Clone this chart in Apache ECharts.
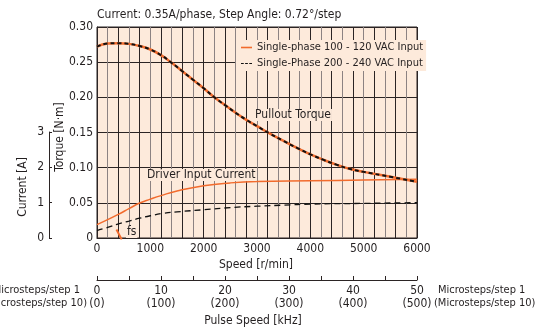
<!DOCTYPE html>
<html><head><meta charset="utf-8">
<script src="https://cdn.jsdelivr.net/npm/echarts@6/dist/echarts.min.js"></script>
<style>html,body{margin:0;padding:0;background:#fff}#c{width:544px;height:330px}</style>
</head><body><div id="c"></div>
<script>
// ---- data ----
const torqueSpeed = [0,200,400,600,800,1000,1200,1400,1600,1800,2000,2200,2400,2600,2800,3000,3250,3500,3750,4000,4250,4500,4750,5000,5500,6000];
const torqueValues = [0.272,0.2765,0.277,0.276,0.273,0.268,0.260,0.249,0.237,0.225,0.213,0.200,0.189,0.178,0.168,0.159,0.148,0.138,0.128,0.119,0.111,0.104,0.098,0.094,0.087,0.080];
const current1Speed = [0,200,400,600,800,1000,1200,1500,2000,2500,3000,4000,5000,6000];
const current1Values = [0.38,0.52,0.67,0.83,0.99,1.10,1.20,1.33,1.48,1.56,1.60,1.62,1.64,1.66];
const current2Speed = [0,200,400,600,800,1000,1250,1500,2000,2500,3000,3500,4000,5000,6000];
const current2Values = [0.21,0.30,0.40,0.48,0.56,0.63,0.70,0.74,0.80,0.86,0.90,0.93,0.96,0.98,1.00];
const fsSpeed = [365,462];
const fsTorque = [0.012,-0.002];
const seriesNames = ['Single-phase 100 - 120 VAC Input','Single-Phase 200 - 240 VAC Input'];
const titleText = 'Current: 0.35A/phase, Step Angle: 0.72°/step';

const FONT = "'Liberation Sans Narrow','Arial Narrow','DejaVu Sans Condensed',sans-serif";
const FS = 12;
const TXT = '#231f20';
const ORANGE = '#f26b2d';
const BG = '#fdeadb';
const DARK = '#2b2424';
const GREY = '#8c8282';

const zip = (a,b)=>a.map((v,i)=>[v,b[i]]);

const chart = echarts.init(document.getElementById('c'), null, {renderer:'canvas'});
const ts = {fontFamily: FONT, fontSize: FS, color: TXT};
const F = FS + 'px ' + FONT;
const F11 = '11px ' + FONT;
const txt = (text, x, y, extra) => ({type:'text', x, y, z:50,
  style:Object.assign({text, font:F, fill:TXT, verticalAlign:'middle'}, extra || {})});
chart.setOption({
  animation:false,
  textStyle:{fontFamily:FONT},
  grid:[
    {left:97, top:27, width:320, height:211, show:true, backgroundColor:BG, borderColor:DARK, borderWidth:1},
    {left:97, top:132, width:320, height:106, show:false},
    {left:97, top:279, width:320, height:1, show:false}
  ],
  xAxis:[
    {gridIndex:0, type:'value', min:0, max:6000, interval:200,
     axisLine:{show:true, onZero:false, lineStyle:{color:DARK, width:1}}, axisTick:{show:false},
     axisLabel:{...ts, margin:5, formatter:v=> v%1000===0 ? String(v) : ''},
     splitLine:{show:true, lineStyle:{color:GREY, width:1}}},
    {gridIndex:0, type:'value', min:0, max:6000, interval:400,
     axisLine:{show:false}, axisTick:{show:false}, axisLabel:{show:false},
     splitLine:{show:true, lineStyle:{color:DARK, width:1}}},
    {gridIndex:1, type:'value', min:0, max:6000, show:false},
    {gridIndex:2, type:'value', min:0, max:50, interval:5, position:'bottom',
     axisLine:{show:true, onZero:false, lineStyle:{color:DARK, width:1}},
     axisTick:{show:true, inside:true, length:4, lineStyle:{color:DARK}},
     axisLabel:{...ts, margin:4, lineHeight:13, formatter:v=> v%10===0 ? v+'\n('+(v*10)+')' : ''},
     splitLine:{show:false}}
  ],
  yAxis:[
    {gridIndex:0, type:'value', min:0, max:0.30, interval:0.05,
     axisLine:{show:true, onZero:false, lineStyle:{color:DARK}}, axisTick:{show:false},
     axisLabel:{...ts, margin:4, formatter:v=> v===0 ? '0' : v.toFixed(2)},
     splitLine:{show:true, lineStyle:{color:DARK, width:1}}},
    {gridIndex:1, type:'value', min:0, max:3, interval:1, offset:48, position:'left',
     axisLine:{show:true, onZero:false, lineStyle:{color:DARK}},
     axisTick:{show:true, inside:true, length:3, lineStyle:{color:DARK}},
     axisLabel:{...ts, margin:5},
     splitLine:{show:false}},
    {gridIndex:2, type:'value', show:false}
  ],
  legend:{
    data:[
      {name:seriesNames[0], icon:'rect'},
      {name:seriesNames[1], icon:'path://M0,0h3v1h-3z M4.5,0h3v1h-3z M9,0h3v1h-3z'}
    ],
    orient:'vertical', left:236, top:40, itemGap:5,
    itemWidth:11, itemHeight:1.6, backgroundColor:BG, padding:[2,3,2,5],
    textStyle:{fontFamily:FONT, fontSize:11, color:TXT}
  },
  series:[
    {name:seriesNames[0], type:'line', xAxisIndex:0, yAxisIndex:0, data:zip(torqueSpeed,torqueValues),
     smooth:true, showSymbol:false, symbol:'none', lineStyle:{color:ORANGE, width:2.5}, itemStyle:{color:ORANGE}, z:3},
    {name:seriesNames[1], type:'line', xAxisIndex:0, yAxisIndex:0, data:zip(torqueSpeed,torqueValues),
     smooth:true, showSymbol:false, symbol:'none', lineStyle:{color:'#111', width:2, type:[4,3]}, itemStyle:{color:'#111'}, z:4},
    {name:seriesNames[0], type:'line', xAxisIndex:2, yAxisIndex:1, data:zip(current1Speed,current1Values),
     smooth:true, showSymbol:false, symbol:'none', lineStyle:{color:ORANGE, width:1.5}, itemStyle:{color:ORANGE}, z:3},
    {name:seriesNames[1], type:'line', xAxisIndex:2, yAxisIndex:1, data:zip(current2Speed,current2Values),
     smooth:true, showSymbol:false, symbol:'none', lineStyle:{color:'#111', width:1.3, type:[6,4]}, itemStyle:{color:'#111'}, z:3},
    {name:'fs', type:'line', xAxisIndex:0, yAxisIndex:0, data:zip(fsSpeed,fsTorque), clip:false,
     showSymbol:false, symbol:'none', lineStyle:{color:ORANGE, width:2}, z:3}
  ],
  graphic:[
    txt(titleText, 97, 15),
    txt('Pullout Torque', 254, 115, {backgroundColor:BG, padding:[0,1]}),
    txt('Driver Input Current', 146, 175, {backgroundColor:BG, padding:[0,1]}),
    txt('fs', 126, 232, {backgroundColor:BG, padding:[0,1]}),
    txt('Speed [r/min]', 256, 265, {align:'center'}),
    txt('Pulse Speed [kHz]', 253, 321, {align:'center'}),
    {type:'text', x:60, y:137, rotation:Math.PI/2, z:50, style:{text:'Torque [N·m]', font:F, fill:TXT, align:'center', verticalAlign:'middle'}},
    {type:'text', x:23, y:187, rotation:Math.PI/2, z:50, style:{text:'Current [A]', font:F, fill:TXT, align:'center', verticalAlign:'middle'}},
    txt('Microsteps/step 1', 80, 290, {align:'right', font:F11}),
    txt('(Microsteps/step 10)', 87, 303, {align:'right', font:F11}),
    txt('Microsteps/step 1', 438, 290, {align:'left', font:F11}),
    txt('(Microsteps/step 10)', 434, 303, {align:'left', font:F11})
  ]
});
</script>
</body></html>
